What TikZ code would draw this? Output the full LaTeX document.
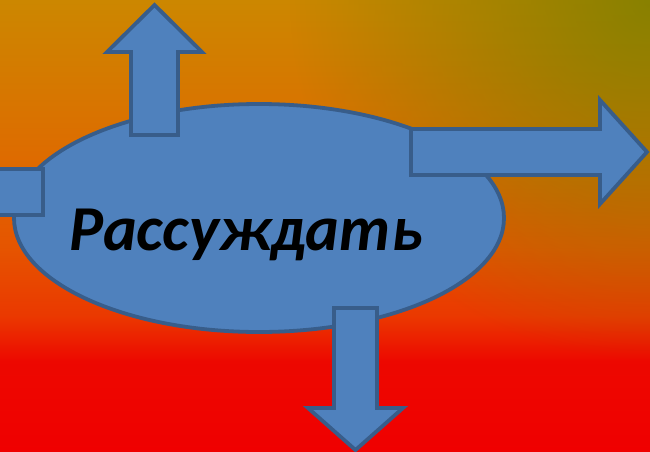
\documentclass[tikz,border=0pt]{standalone}
\usepackage{fontspec}
\setmainfont{Carlito}
\usetikzlibrary{fadings, shapes.geometric}
\definecolor{bgolive}{RGB}{125,128,0}
\definecolor{blockfill}{RGB}{79,129,189}
\definecolor{blockline}{RGB}{56,93,138}
% stops between 25bp and 75bp cover the backdrop
\pgfdeclareverticalshading{backdrop}{100bp}{
    rgb(0bp)=(0.94,0,0); rgb(25bp)=(0.94,0,0); rgb(35bp)=(0.93,0.03,0); rgb(40bp)=(0.92,0.22,0);
    rgb(47.5bp)=(0.90,0.33,0); rgb(57.5bp)=(0.87,0.42,0); rgb(75bp)=(0.80,0.53,0); rgb(100bp)=(0.80,0.53,0)}
\tikzfading[name=olivefade, inner color=transparent!0, outer color=transparent!100]
\tikzset{
    block/.style={fill=blockfill, draw=blockline, line width=3.8pt, line join=miter},
    word/.style={font=\bfseries\itshape\fontsize{64}{64}\selectfont, text=black, inner sep=0pt}
}
\begin{document}
\begin{tikzpicture}[x=1pt, y=-1pt]
    \useasboundingbox (0,0) rectangle (650,452);
    % background
    \shade[shading=backdrop] (0,0) rectangle (650,452);
    \fill[bgolive, path fading=olivefade, fill opacity=0.85] (650,0) circle (360);
    % centre
    \node[block, ellipse, minimum width=490, minimum height=228, inner sep=0pt] (idea) at (259,218) {};
    % arrows
    \draw[block] (-10,169) rectangle (43,215);
    \draw[block] (131,135) -- (131,52) -- (107,52) -- (154.5,5) -- (202,52) -- (178,52) -- (178,135) -- cycle;
    \draw[block] (411,129) -- (600,129) -- (600,100) -- (647,152) -- (600,204) -- (600,175) -- (411,175) -- cycle;
    \draw[block] (334,308) -- (334,408) -- (308,408) -- (355.5,450) -- (403,408) -- (377,408) -- (377,308) -- cycle;
    \node[word, anchor=base] (verb) at (246,250) {Рассуждать};
\end{tikzpicture}
\end{document}
